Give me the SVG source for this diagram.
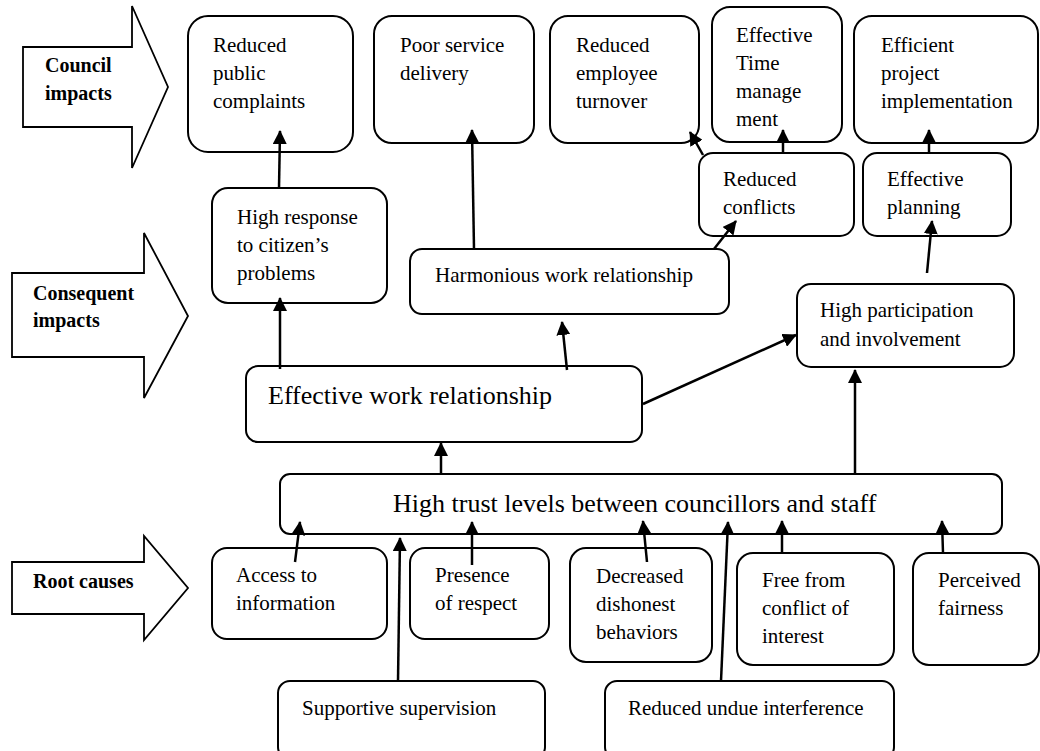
<svg xmlns="http://www.w3.org/2000/svg" width="1040" height="751" viewBox="0 0 1040 751">
<style>
.bx{fill:#fff;stroke:#000;stroke-width:2}
.ba{fill:#fff;stroke:#000;stroke-width:1.8}
.t{font-family:"Liberation Serif","Times New Roman",serif;font-size:21px;fill:#000}
.big{font-family:"Liberation Serif","Times New Roman",serif;font-size:26px;fill:#000}
.lb{font-family:"Liberation Serif","Times New Roman",serif;font-size:20px;font-weight:bold;fill:#000}
.c{fill:none;stroke:#000;stroke-width:2.5;marker-end:url(#ah)}
</style>
<defs>
<marker id="ah" markerUnits="userSpaceOnUse" viewBox="0 0 14 14" markerWidth="14" markerHeight="14" refX="13" refY="7" orient="auto">
<path d="M0,0 L14,7 L0,14 z" fill="#000"/>
</marker>
</defs>
<rect width="1040" height="751" fill="#fff"/>

<g id="label-council">
<polygon class="ba" points="23,47 132,47 132,6 168,87 132,168 132,127 23,127"/>
<text class="lb" x="45" y="72">Council</text>
<text class="lb" x="45" y="100">impacts</text>
</g>
<g id="label-consequent">
<polygon class="ba" points="12,273 144,273 144,233 188,316 144,398 144,357 12,357"/>
<text class="lb" x="33" y="300">Consequent</text>
<text class="lb" x="33" y="327">impacts</text>
</g>
<g id="label-root">
<polygon class="ba" points="12,562 144,562 144,536 188,588 144,640 144,614 12,614"/>
<text class="lb" x="33" y="588">Root causes</text>
</g>

<g id="n-reduced-complaints">
<rect class="bx" x="188" y="16" width="165" height="136" rx="20"/>
<text class="t" x="213" y="52">Reduced</text>
<text class="t" x="213" y="80">public</text>
<text class="t" x="213" y="108">complaints</text>
</g>
<g id="n-poor-service">
<rect class="bx" x="374" y="16" width="160" height="127" rx="18"/>
<text class="t" x="400" y="52">Poor service</text>
<text class="t" x="400" y="80">delivery</text>
</g>
<g id="n-reduced-turnover">
<rect class="bx" x="550" y="16" width="149" height="127" rx="18"/>
<text class="t" x="576" y="52">Reduced</text>
<text class="t" x="576" y="80">employee</text>
<text class="t" x="576" y="108">turnover</text>
</g>
<g id="n-time-management">
<rect class="bx" x="712" y="7" width="130" height="135" rx="18"/>
<text class="t" x="736" y="42">Effective</text>
<text class="t" x="736" y="70">Time</text>
<text class="t" x="736" y="98">manage</text>
<text class="t" x="736" y="126">ment</text>
</g>
<g id="n-efficient-project">
<rect class="bx" x="854" y="16" width="184" height="127" rx="18"/>
<text class="t" x="881" y="52">Efficient</text>
<text class="t" x="881" y="80">project</text>
<text class="t" x="881" y="108">implementation</text>
</g>

<g id="n-reduced-conflicts">
<rect class="bx" x="699" y="153" width="155" height="83" rx="14"/>
<text class="t" x="723" y="186">Reduced</text>
<text class="t" x="723" y="214">conflicts</text>
</g>
<g id="n-effective-planning">
<rect class="bx" x="863" y="153" width="148" height="83" rx="14"/>
<text class="t" x="887" y="186">Effective</text>
<text class="t" x="887" y="214">planning</text>
</g>
<g id="n-high-response">
<rect class="bx" x="212" y="188" width="175" height="115" rx="16"/>
<text class="t" x="237" y="224">High response</text>
<text class="t" x="237" y="252">to citizen’s</text>
<text class="t" x="237" y="280">problems</text>
</g>
<g id="n-harmonious">
<rect class="bx" x="410" y="249" width="319" height="65" rx="12"/>
<text class="t" x="435" y="282" textLength="258" lengthAdjust="spacingAndGlyphs">Harmonious work relationship</text>
</g>
<g id="n-high-participation">
<rect class="bx" x="797" y="284" width="217" height="83" rx="14"/>
<text class="t" x="820" y="317">High participation</text>
<text class="t" x="820" y="346">and involvement</text>
</g>
<g id="n-effective-work">
<rect class="bx" x="246" y="366" width="396" height="76" rx="12"/>
<text class="big" x="268" y="404">Effective work relationship</text>
</g>
<g id="n-high-trust">
<rect class="bx" x="280" y="474" width="722" height="60" rx="10"/>
<text class="big" x="393" y="512">High trust levels between councillors and staff</text>
</g>

<g id="n-access">
<rect class="bx" x="212" y="548" width="175" height="91" rx="15"/>
<text class="t" x="236" y="582">Access to</text>
<text class="t" x="236" y="610">information</text>
</g>
<g id="n-respect">
<rect class="bx" x="410" y="548" width="139" height="91" rx="15"/>
<text class="t" x="435" y="582">Presence</text>
<text class="t" x="435" y="610">of respect</text>
</g>
<g id="n-dishonest">
<rect class="bx" x="570" y="548" width="142" height="114" rx="16"/>
<text class="t" x="596" y="583">Decreased</text>
<text class="t" x="596" y="611">dishonest</text>
<text class="t" x="596" y="639">behaviors</text>
</g>
<g id="n-conflict-interest">
<rect class="bx" x="737" y="553" width="157" height="112" rx="16"/>
<text class="t" x="762" y="587">Free from</text>
<text class="t" x="762" y="615">conflict of</text>
<text class="t" x="762" y="643">interest</text>
</g>
<g id="n-fairness">
<rect class="bx" x="913" y="553" width="126" height="112" rx="16"/>
<text class="t" x="938" y="587">Perceived</text>
<text class="t" x="938" y="615">fairness</text>
</g>
<g id="n-supportive">
<rect class="bx" x="278" y="681" width="267" height="78" rx="12"/>
<text class="t" x="302" y="715">Supportive supervision</text>
</g>
<g id="n-undue">
<rect class="bx" x="605" y="681" width="289" height="78" rx="12"/>
<text class="t" x="628" y="715">Reduced undue interference</text>
</g>

<g id="connectors">
<line class="c" x1="279" y1="188" x2="280" y2="131"/>
<line class="c" x1="474" y1="249" x2="472" y2="130"/>
<line class="c" x1="703" y1="155" x2="690" y2="132"/>
<line class="c" x1="783" y1="153" x2="783" y2="130"/>
<line class="c" x1="929" y1="153" x2="929" y2="130"/>
<line class="c" x1="714" y1="249" x2="736" y2="221"/>
<line class="c" x1="927" y1="273" x2="932" y2="221"/>
<line class="c" x1="280" y1="369" x2="280" y2="298"/>
<line class="c" x1="567" y1="370" x2="562" y2="322"/>
<line class="c" x1="643" y1="404" x2="796" y2="335"/>
<line class="c" x1="441" y1="474" x2="441" y2="443"/>
<line class="c" x1="855" y1="474" x2="855" y2="370"/>
<line class="c" x1="295" y1="562" x2="300" y2="522"/>
<line class="c" x1="398" y1="681" x2="400" y2="538"/>
<line class="c" x1="472" y1="565" x2="472" y2="522"/>
<line class="c" x1="647" y1="562" x2="643" y2="521"/>
<line class="c" x1="721" y1="681" x2="728" y2="522"/>
<line class="c" x1="782" y1="553" x2="782" y2="521"/>
<line class="c" x1="943" y1="553" x2="942" y2="521"/>
</g>
</svg>
